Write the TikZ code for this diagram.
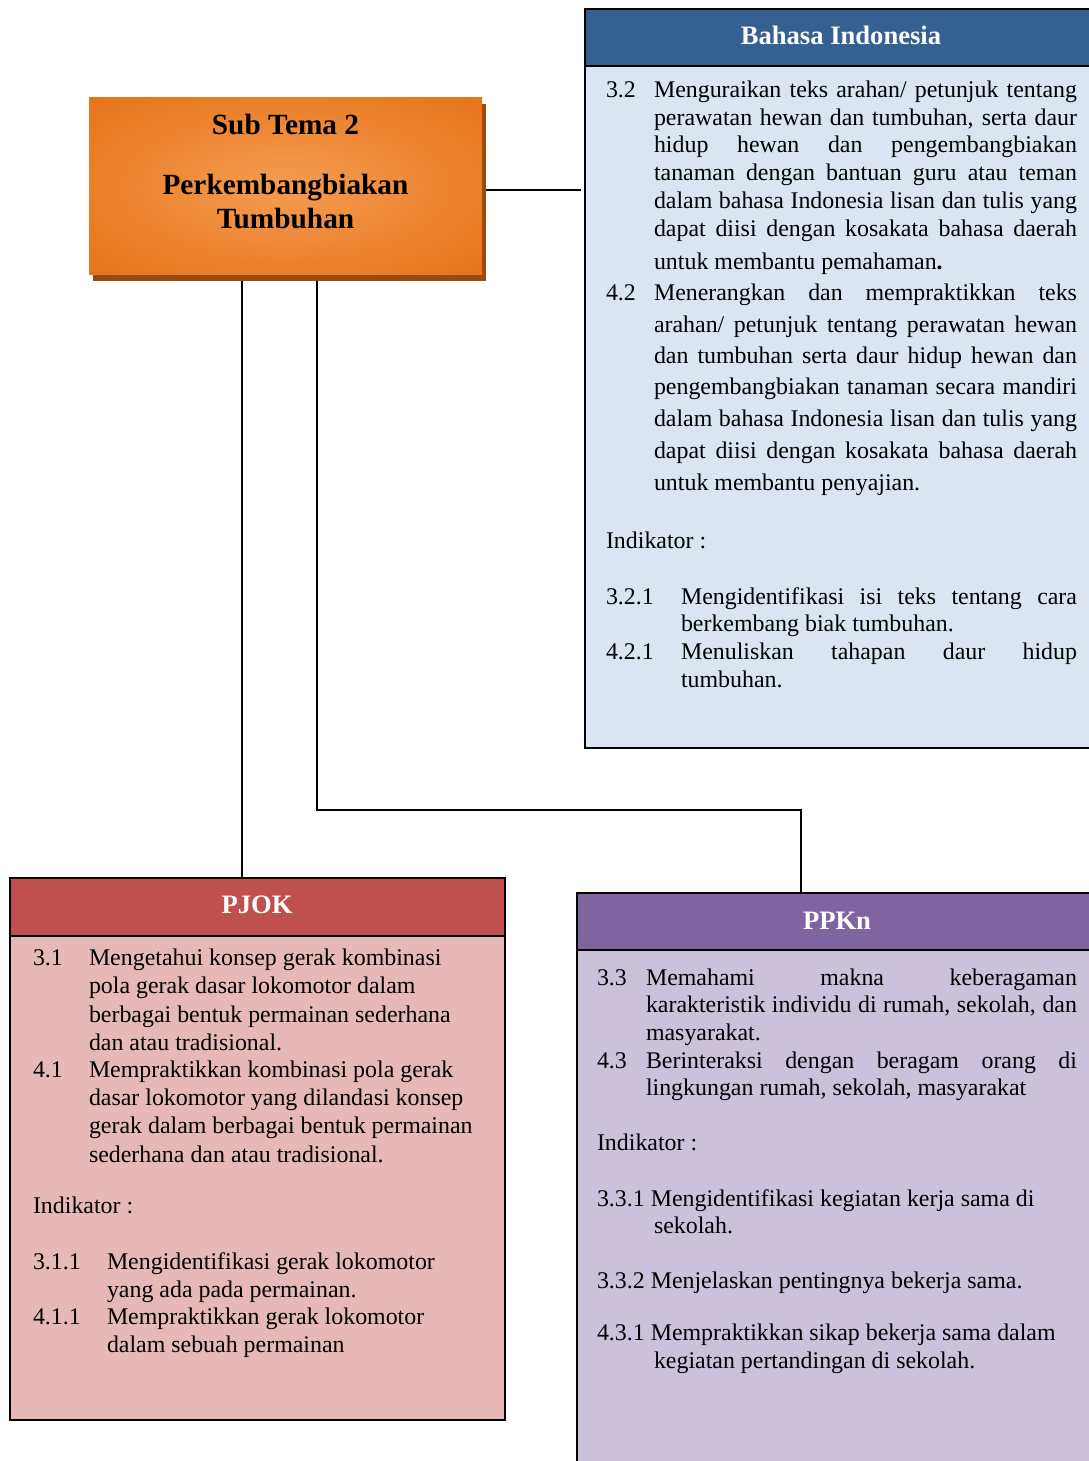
\documentclass[tikz,border=0pt]{standalone}
\usepackage{fontspec}
\setmainfont{Liberation Serif}
\usetikzlibrary{backgrounds}
\definecolor{bihead}{HTML}{366092}
\definecolor{bibody}{HTML}{DBE5F1}
\definecolor{pjhead}{HTML}{C0504D}
\definecolor{pjbody}{HTML}{E6B9B8}
\definecolor{pphead}{HTML}{8064A2}
\definecolor{ppbody}{HTML}{CCC1DA}
\definecolor{sublight}{HTML}{F59D52}
\definecolor{submid}{HTML}{EC822E}
\definecolor{subdark}{HTML}{E06A0E}
\definecolor{subshadow}{HTML}{9A4B0C}
\pgfdeclareradialshading{subshade}{\pgfpoint{0bp}{0bp}}{color(0bp)=(sublight); color(22bp)=(submid); color(46bp)=(subdark); color(72bp)=(subdark)}
\newcounter{txtc}
\newcommand\bodyfont{\fontsize{23.9}{28}\selectfont}
\newcommand\txtline[3]{\stepcounter{txtc}\node[txt] (t\arabic{txtc}) at (#1,#2) {#3};}
\newcommand\jst[2]{\makebox[#1pt][s]{#2}}
\begin{document}
\begin{tikzpicture}[x=1pt,y=-1pt,
  txt/.style={anchor=base west,inner sep=0pt,outer sep=0pt,font=\bodyfont},
  boxbody/.style={draw=black,line width=2pt,inner sep=0pt,outer sep=0pt,anchor=north west},
  boxhead/.style={draw=black,line width=2pt,inner sep=0pt,outer sep=0pt,anchor=north west},
  headtitle/.style={anchor=base,inner sep=0pt,text=white,font=\fontsize{26.6}{30}\selectfont\bfseries},
  subtitle/.style={anchor=base,inner sep=0pt,text=black,font=\fontsize{29.3}{33}\selectfont\bfseries},
  conn/.style={draw=black,line width=1.6pt}]
\useasboundingbox (0,0) rectangle (1089,1461);
\clip (0,0) rectangle (1089,1461);

% ---- Sub Tema box
\fill[subshadow] (93,104) rectangle (486,281);
\node[anchor=north west,inner sep=0pt,outer sep=0pt,minimum width=393pt,minimum height=176pt,shading=subshade] (sub) at (89,98) {};
\node[subtitle] (subt1) at (285.5,135) {Sub Tema 2};
\node[subtitle] (subt2) at (285.5,194) {Perkembangbiakan};
\node[subtitle] (subt3) at (285.5,228) {Tumbuhan};

% ---- Bahasa Indonesia
\node[boxbody,fill=bibody,minimum width=516pt,minimum height=739pt] (bi) at (585,9) {};
\node[boxhead,fill=bihead,minimum width=516pt,minimum height=57pt] (bihead) at (585,9) {};
\node[headtitle] (bititle) at (841,45) {Bahasa Indonesia};
\txtline{606}{98}{3.2}
\txtline{654}{98}{\jst{423}{Menguraikan teks arahan/ petunjuk tentang}}
\txtline{654}{125}{\jst{423}{perawatan hewan dan tumbuhan, serta daur}}
\txtline{654}{152}{\jst{423}{hidup hewan dan pengembangbiakan}}
\txtline{654}{180}{\jst{423}{tanaman dengan bantuan guru atau teman}}
\txtline{654}{208}{\jst{423}{dalam bahasa Indonesia lisan dan tulis yang}}
\txtline{654}{236}{\jst{423}{dapat diisi dengan kosakata bahasa daerah}}
\txtline{654}{269}{untuk membantu pemahaman\textbf{.}}
\txtline{606}{300}{4.2}
\txtline{654}{300}{\jst{423}{Menerangkan dan mempraktikkan teks}}
\txtline{654}{332}{\jst{423}{arahan/ petunjuk tentang perawatan hewan}}
\txtline{654}{363}{\jst{423}{dan tumbuhan serta daur hidup hewan dan}}
\txtline{654}{394}{\jst{423}{pengembangbiakan tanaman secara mandiri}}
\txtline{654}{426}{\jst{423}{dalam bahasa Indonesia lisan dan tulis yang}}
\txtline{654}{458}{\jst{423}{dapat diisi dengan kosakata bahasa daerah}}
\txtline{654}{490}{untuk membantu penyajian.}
\txtline{606}{548}{Indikator :}
\txtline{606}{604}{3.2.1}
\txtline{681}{604}{\jst{396}{Mengidentifikasi isi teks tentang cara}}
\txtline{681}{631}{berkembang biak tumbuhan.}
\txtline{606}{659}{4.2.1}
\txtline{681}{659}{\jst{396}{Menuliskan tahapan daur hidup}}
\txtline{681}{687}{tumbuhan.}

% ---- PJOK
\node[boxbody,fill=pjbody,minimum width=495pt,minimum height=542pt] (pj) at (10,878) {};
\node[boxhead,fill=pjhead,minimum width=495pt,minimum height=58pt] (pjhead) at (10,878) {};
\node[headtitle] (pjtitle) at (257,913) {PJOK};
\txtline{33}{965}{3.1}
\txtline{89}{965}{Mengetahui konsep gerak kombinasi}
\txtline{89}{993}{pola gerak dasar lokomotor dalam}
\txtline{89}{1022}{berbagai bentuk permainan sederhana}
\txtline{89}{1050}{dan atau tradisional.}
\txtline{33}{1077}{4.1}
\txtline{89}{1077}{Mempraktikkan kombinasi pola gerak}
\txtline{89}{1105}{dasar lokomotor yang dilandasi konsep}
\txtline{89}{1133}{gerak dalam berbagai bentuk permainan}
\txtline{89}{1162}{sederhana dan atau tradisional.}
\txtline{33}{1213}{Indikator :}
\txtline{33}{1269}{3.1.1}
\txtline{107}{1269}{Mengidentifikasi gerak lokomotor}
\txtline{107}{1297}{yang ada pada permainan.}
\txtline{33}{1324}{4.1.1}
\txtline{107}{1324}{Mempraktikkan gerak lokomotor}
\txtline{107}{1352}{dalam sebuah permainan}

% ---- PPKn
\node[boxbody,fill=ppbody,minimum width=522pt,minimum height=600pt] (pp) at (577,893) {};
\node[boxhead,fill=pphead,minimum width=522pt,minimum height=57pt] (pphead) at (577,893) {};
\node[headtitle] (pptitle) at (837,929) {PPKn};
\txtline{597}{985}{3.3}
\txtline{646}{985}{\jst{431}{Memahami makna keberagaman}}
\txtline{646}{1012}{\jst{431}{karakteristik individu di rumah, sekolah, dan}}
\txtline{646}{1040}{masyarakat.}
\txtline{597}{1068}{4.3}
\txtline{646}{1068}{\jst{431}{Berinteraksi dengan beragam orang di}}
\txtline{646}{1095}{lingkungan rumah, sekolah, masyarakat}
\txtline{597}{1150}{Indikator :}
\txtline{597}{1206}{3.3.1 Mengidentifikasi kegiatan kerja sama di}
\txtline{654}{1233}{sekolah.}
\txtline{597}{1288}{3.3.2 Menjelaskan pentingnya bekerja sama.}
\txtline{597}{1340}{4.3.1 Mempraktikkan sikap bekerja sama dalam}
\txtline{654}{1368}{kegiatan pertandingan di sekolah.}

% ---- connectors
\coordinate (xl) at (242,0);
\coordinate (xr) at (317,0);
\coordinate (biin) at (581,190);
\coordinate (elbow) at (801,810);
\begin{pgfonlayer}{background}
\draw[conn] (sub.east |- biin) -- (biin);
\draw[conn] (sub.south -| xl) -- (pjhead.north -| xl);
\draw[conn] (sub.south -| xr) |- (elbow) -- (pphead.north -| elbow);
\end{pgfonlayer}
\end{tikzpicture}
\end{document}
